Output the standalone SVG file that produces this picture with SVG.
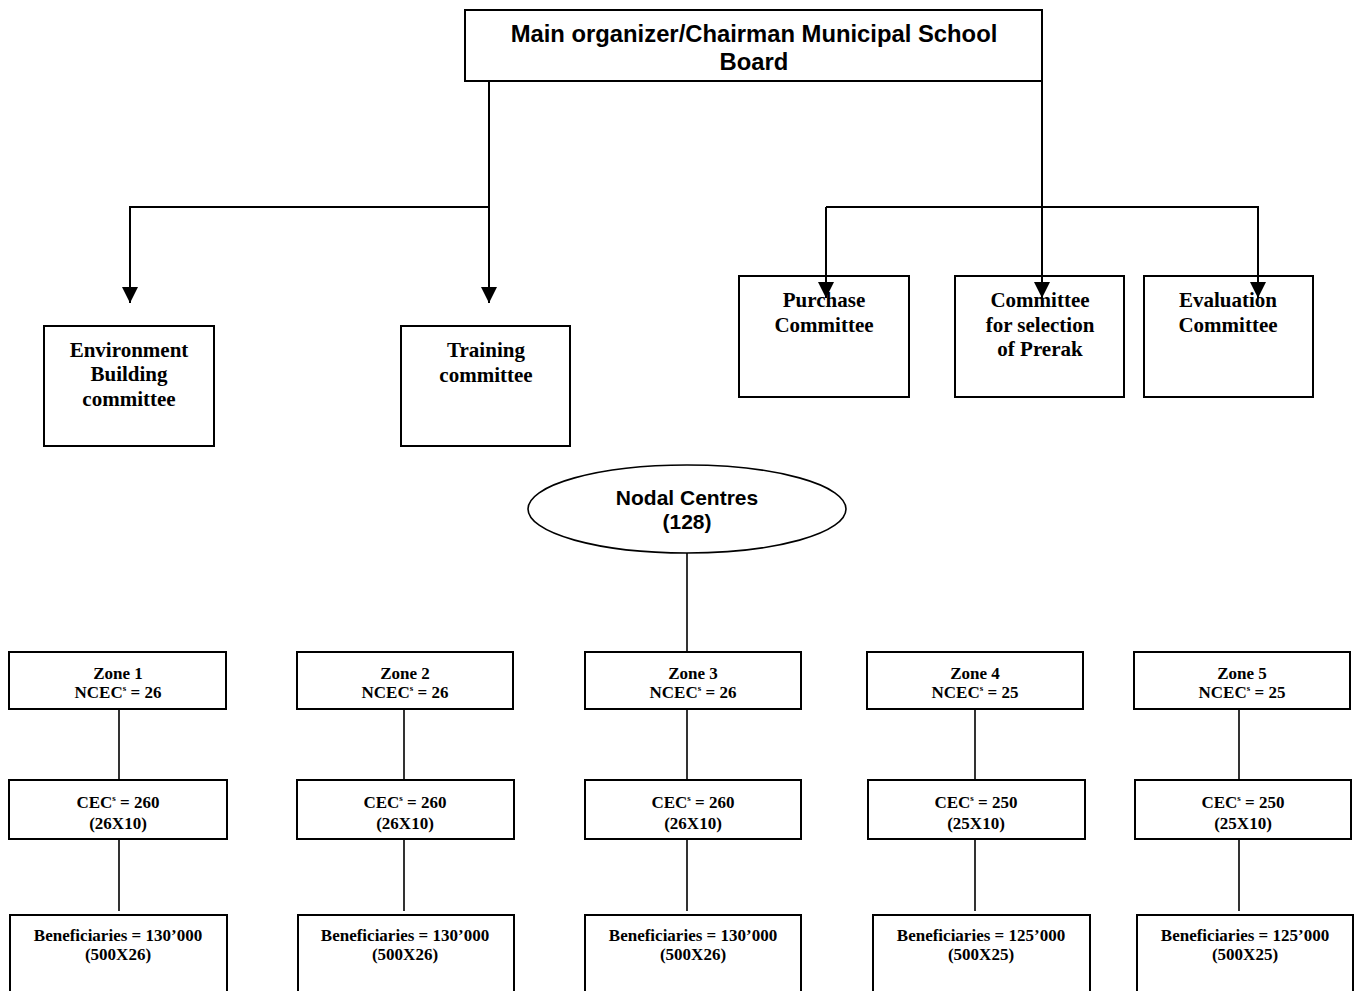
<svg xmlns="http://www.w3.org/2000/svg" width="1355" height="991" viewBox="0 0 1355 991">
<style>
.box{fill:#fff;stroke:#000;stroke-width:2}
.ln{fill:none;stroke:#000;stroke-width:1.6}
.ar{fill:none;stroke:#000;stroke-width:2}
.sans{font-family:"Liberation Sans",Arial,sans-serif;font-weight:bold;text-anchor:middle;fill:#000}
.serif{font-family:"Liberation Serif","Times New Roman",serif;font-weight:bold;text-anchor:middle;fill:#000}
.t24{font-size:23.8px}
.t21{font-size:21px}
.t19{font-size:21px}
.t15{font-size:17px}
.sup{font-size:9px}
</style>
<defs>
<marker id="arrow" markerUnits="userSpaceOnUse" markerWidth="16" markerHeight="16" refX="16" refY="8" orient="auto">
<path d="M0,0 L16,8 L0,16 z" fill="#000"/>
</marker>
</defs>

<g id="main">
<rect class="box" x="465" y="10" width="577" height="71"/>
<text class="sans t24" x="754" y="42">Main organizer/Chairman Municipal School</text>
<text class="sans t24" x="754" y="70">Board</text>
</g>

<g id="environment">
<rect class="box" x="44" y="326" width="170" height="120"/>
<text class="serif t19" x="129" y="357">Environment</text>
<text class="serif t19" x="129" y="381">Building</text>
<text class="serif t19" x="129" y="406">committee</text>
</g>

<g id="training">
<rect class="box" x="401" y="326" width="169" height="120"/>
<text class="serif t19" x="486" y="357">Training</text>
<text class="serif t19" x="486" y="382">committee</text>
</g>

<g id="purchase">
<rect class="box" x="739" y="276" width="170" height="121"/>
<text class="serif t19" x="824" y="307">Purchase</text>
<text class="serif t19" x="824" y="332">Committee</text>
</g>

<g id="selection">
<rect class="box" x="955" y="276" width="169" height="121"/>
<text class="serif t19" x="1040" y="307">Committee</text>
<text class="serif t19" x="1040" y="332">for selection</text>
<text class="serif t19" x="1040" y="356">of Prerak</text>
</g>

<g id="evaluation">
<rect class="box" x="1144" y="276" width="169" height="121"/>
<text class="serif t19" x="1228" y="307">Evaluation</text>
<text class="serif t19" x="1228" y="332">Committee</text>
</g>

<g id="nodal">
<ellipse class="box" cx="687" cy="509" rx="159" ry="44" style="stroke-width:1.6"/>
<text class="sans t21" x="687" y="505">Nodal Centres</text>
<text class="sans t21" x="687" y="529">(128)</text>
</g>

<g id="zone1">
<rect class="box" x="9" y="652" width="217" height="57"/>
<text class="serif t15" x="118" y="679">Zone 1</text>
<text class="serif t15" x="118" y="698">NCEC<tspan class="sup" dy="-7">s</tspan><tspan dy="7"> = 26</tspan></text>
</g>
<g id="cec1">
<rect class="box" x="9" y="780" width="218" height="59"/>
<text class="serif t15" x="118" y="808">CEC<tspan class="sup" dy="-7">s</tspan><tspan dy="7"> = 260</tspan></text>
<text class="serif t15" x="118" y="829">(26X10)</text>
</g>
<g id="ben1">
<rect class="box" x="10" y="915" width="217" height="90"/>
<text class="serif t15" x="118" y="941">Beneficiaries = 130’000</text>
<text class="serif t15" x="118" y="960">(500X26)</text>
</g>

<g id="zone2">
<rect class="box" x="297" y="652" width="216" height="57"/>
<text class="serif t15" x="405" y="679">Zone 2</text>
<text class="serif t15" x="405" y="698">NCEC<tspan class="sup" dy="-7">s</tspan><tspan dy="7"> = 26</tspan></text>
</g>
<g id="cec2">
<rect class="box" x="297" y="780" width="217" height="59"/>
<text class="serif t15" x="405" y="808">CEC<tspan class="sup" dy="-7">s</tspan><tspan dy="7"> = 260</tspan></text>
<text class="serif t15" x="405" y="829">(26X10)</text>
</g>
<g id="ben2">
<rect class="box" x="298" y="915" width="216" height="90"/>
<text class="serif t15" x="405" y="941">Beneficiaries = 130’000</text>
<text class="serif t15" x="405" y="960">(500X26)</text>
</g>

<g id="zone3">
<rect class="box" x="585" y="652" width="216" height="57"/>
<text class="serif t15" x="693" y="679">Zone 3</text>
<text class="serif t15" x="693" y="698">NCEC<tspan class="sup" dy="-7">s</tspan><tspan dy="7"> = 26</tspan></text>
</g>
<g id="cec3">
<rect class="box" x="585" y="780" width="216" height="59"/>
<text class="serif t15" x="693" y="808">CEC<tspan class="sup" dy="-7">s</tspan><tspan dy="7"> = 260</tspan></text>
<text class="serif t15" x="693" y="829">(26X10)</text>
</g>
<g id="ben3">
<rect class="box" x="585" y="915" width="216" height="90"/>
<text class="serif t15" x="693" y="941">Beneficiaries = 130’000</text>
<text class="serif t15" x="693" y="960">(500X26)</text>
</g>

<g id="zone4">
<rect class="box" x="867" y="652" width="216" height="57"/>
<text class="serif t15" x="975" y="679">Zone 4</text>
<text class="serif t15" x="975" y="698">NCEC<tspan class="sup" dy="-7">s</tspan><tspan dy="7"> = 25</tspan></text>
</g>
<g id="cec4">
<rect class="box" x="868" y="780" width="217" height="59"/>
<text class="serif t15" x="976" y="808">CEC<tspan class="sup" dy="-7">s</tspan><tspan dy="7"> = 250</tspan></text>
<text class="serif t15" x="976" y="829">(25X10)</text>
</g>
<g id="ben4">
<rect class="box" x="873" y="915" width="217" height="90"/>
<text class="serif t15" x="981" y="941">Beneficiaries = 125’000</text>
<text class="serif t15" x="981" y="960">(500X25)</text>
</g>

<g id="zone5">
<rect class="box" x="1134" y="652" width="216" height="57"/>
<text class="serif t15" x="1242" y="679">Zone 5</text>
<text class="serif t15" x="1242" y="698">NCEC<tspan class="sup" dy="-7">s</tspan><tspan dy="7"> = 25</tspan></text>
</g>
<g id="cec5">
<rect class="box" x="1135" y="780" width="216" height="59"/>
<text class="serif t15" x="1243" y="808">CEC<tspan class="sup" dy="-7">s</tspan><tspan dy="7"> = 250</tspan></text>
<text class="serif t15" x="1243" y="829">(25X10)</text>
</g>
<g id="ben5">
<rect class="box" x="1137" y="915" width="216" height="90"/>
<text class="serif t15" x="1245" y="941">Beneficiaries = 125’000</text>
<text class="serif t15" x="1245" y="960">(500X25)</text>
</g>

<g id="connectors">
<path class="ar" d="M489,82 V303" marker-end="url(#arrow)"/>
<path class="ar" d="M489,207 H130 V303" marker-end="url(#arrow)"/>
<path class="ar" d="M1042,82 V298" marker-end="url(#arrow)"/>
<path class="ar" d="M826,207 H1258 V298" marker-end="url(#arrow)"/>
<path class="ar" d="M826,207 V298" marker-end="url(#arrow)"/>
<path class="ln" d="M687,553 V651"/>
<path class="ln" d="M119,710 V779 M119,840 V911"/>
<path class="ln" d="M404,710 V779 M404,840 V911"/>
<path class="ln" d="M687,710 V779 M687,840 V911"/>
<path class="ln" d="M975,710 V779 M975,840 V911"/>
<path class="ln" d="M1239,710 V779 M1239,840 V911"/>
</g>
</svg>
